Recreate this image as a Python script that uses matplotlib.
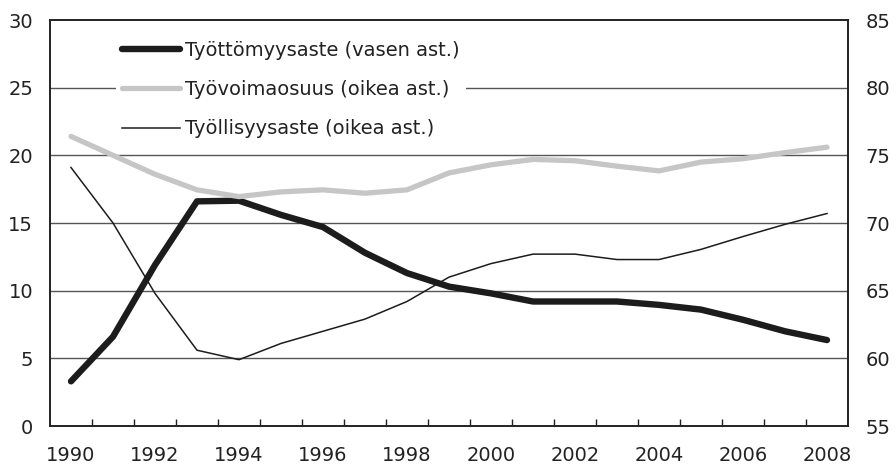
import matplotlib
matplotlib.use("Agg")
import matplotlib.pyplot as plt
from matplotlib.ticker import FixedLocator, NullFormatter

years = list(range(1990, 2009))
tyottomyysaste = [3.3, 6.6, 11.9, 16.6, 16.65, 15.6, 14.7, 12.8, 11.3, 10.3,
                  9.8, 9.2, 9.2, 9.2, 8.95, 8.6, 7.85, 7.0, 6.35]
tyovoimaosuus = [76.4, 75.0, 73.6, 72.45, 71.95, 72.3, 72.45, 72.2, 72.45, 73.7,
                 74.3, 74.7, 74.6, 74.2, 73.85, 74.5, 74.75, 75.2, 75.6]
tyollisyysaste = [74.1, 70.0, 64.8, 60.6, 59.9, 61.1, 62.0, 62.9, 64.2, 66.0,
                  67.0, 67.7, 67.7, 67.3, 67.3, 68.05, 69.0, 69.9, 70.7]
labels = ["Työttömyysaste (vasen ast.)", "Työvoimaosuus (oikea ast.)",
          "Työllisyysaste (oikea ast.)"]
left_ticks = [0, 5, 10, 15, 20, 25, 30]
right_ticks = [55, 60, 65, 70, 75, 80, 85]
x_labels = [str(y) for y in range(1990, 2009, 2)]

plt.rcParams['font.family'] = ['DejaVu Sans']
fig = plt.figure(figsize=(8.96, 4.66), dpi=100)
ax = fig.add_axes([50/896, 40/466, 798/896, 406/466])
ax2 = ax.twinx()

x = list(range(len(years)))
spine_c = "#222222"
for a in (ax, ax2):
    for s in a.spines.values():
        s.set_color(spine_c)
        s.set_linewidth(1.2)

ax.set_ylim(0, 30)
ax2.set_ylim(55, 85)
ax.set_xlim(-0.5, len(years) - 0.5)

ax.set_yticks(left_ticks)
ax2.set_yticks(right_ticks)
for t in left_ticks[1:-1]:
    ax.axhline(t, color="#555555", linewidth=1.0, zorder=1)

l1, = ax.plot(x, tyottomyysaste, color="#1c1c1c", linewidth=4.6,
              solid_capstyle="round", solid_joinstyle="round", zorder=3)
l2, = ax2.plot(x, tyovoimaosuus, color="#c6c6c6", linewidth=3.8,
               solid_capstyle="round", solid_joinstyle="round", zorder=2)
l3, = ax2.plot(x, tyollisyysaste, color="#1c1c1c", linewidth=1.1, zorder=3)

# x ticks: labels at even years, tick marks at category boundaries
major_pos = [years.index(int(s)) for s in x_labels]
ax.set_xticks(major_pos)
ax.set_xticklabels(x_labels)
ax.xaxis.set_minor_locator(FixedLocator([i - 0.5 for i in range(1, len(years))]))
ax.xaxis.set_minor_formatter(NullFormatter())
ax.tick_params(axis="x", which="major", length=0, pad=14.5, labelsize=14, colors="#222222")
ax.tick_params(axis="x", which="minor", direction="in", length=5, width=1.0, color=spine_c)
ax.tick_params(axis="y", length=0, pad=12.2, labelsize=14, colors="#222222")
ax2.tick_params(axis="y", length=0, pad=12.5, labelsize=14, colors="#222222")

leg = ax2.legend([l1, l2, l3], labels, loc="upper left",
                 bbox_to_anchor=(0.0827, 0.962), frameon=True, fancybox=False,
                 framealpha=1, facecolor="white", edgecolor="none",
                 fontsize=14, handlelength=3.0, handletextpad=0.26,
                 labelspacing=1.03, borderpad=0.3, borderaxespad=0)
for t in leg.get_texts():
    t.set_color("#222222")

fig.savefig("out.png", dpi=100)
